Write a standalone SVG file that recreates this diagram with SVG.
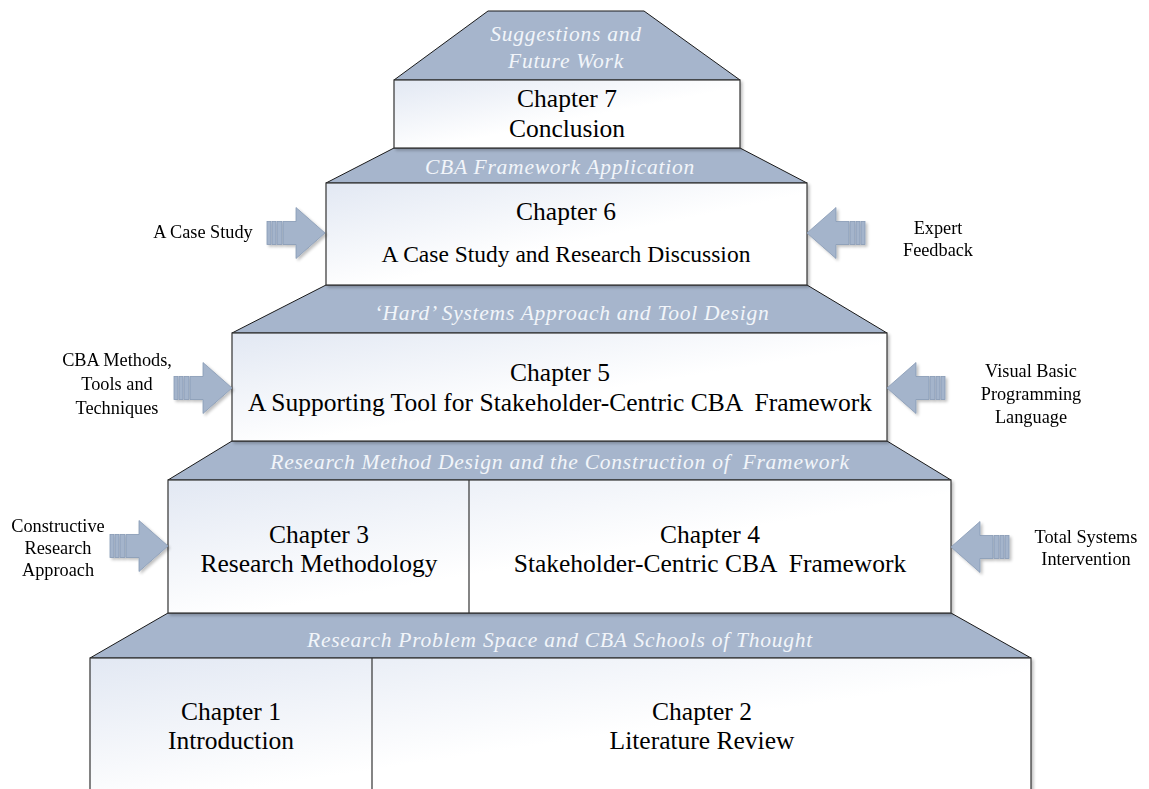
<svg xmlns="http://www.w3.org/2000/svg" xmlns:xlink="http://www.w3.org/1999/xlink" width="1149" height="789" viewBox="0 0 1149 789">
  <defs>
    <linearGradient id="boxFill" x1="0" y1="0" x2="1" y2="1">
      <stop offset="0" stop-color="#e2e8f3"/>
      <stop offset="0.55" stop-color="#ffffff"/>
      <stop offset="1" stop-color="#ffffff"/>
    </linearGradient>
    <filter id="soft" x="-10%" y="-10%" width="130%" height="130%">
      <feGaussianBlur in="SourceAlpha" stdDeviation="1.5"/>
      <feOffset dx="1.5" dy="2" result="b"/>
      <feComponentTransfer><feFuncA type="linear" slope="0.25"/></feComponentTransfer>
      <feMerge><feMergeNode/><feMergeNode in="SourceGraphic"/></feMerge>
    </filter>
    <!-- block arrow, tip at the origin, pointing right -->
    <g id="blockArrow">
      <rect x="-58" y="-11.5" width="4" height="23"/>
      <rect x="-53" y="-11.5" width="4" height="23"/>
      <rect x="-48" y="-11.5" width="5" height="23"/>
      <path d="M-42,-11.5 H-29 V-25.5 L0,0 L-29,25.5 V11.5 H-42 Z"/>
    </g>
  </defs>
  <style>
    .band { fill: #a6b5cc; stroke: #1a1a1a; stroke-width: 1; }
    .box { fill: url(#boxFill); stroke: #333333; stroke-width: 1.2; }
    .div { stroke: #333333; stroke-width: 1.2; }
    .arrow { fill: #a4b4cb; stroke: #8799b4; stroke-width: 0.8; }
    .ch { font-family: "Liberation Serif", "Times New Roman", serif; font-size: 25.5px; fill: #000000; text-anchor: middle; white-space: pre; }
    .sub { font-size: 23.5px; }
    .band-t { font-family: "Liberation Serif", "Times New Roman", serif; font-size: 21.5px; letter-spacing: 0.75px; font-style: italic; fill: #f2f5fa; text-anchor: middle; white-space: pre; }
    .side { font-family: "Liberation Serif", "Times New Roman", serif; font-size: 18.3px; fill: #000000; text-anchor: middle; }
  </style>

  <!-- shaded roof bands -->
  <g id="bands">
    <path class="band" d="M394,80 L488,11 L644,11 L740,80 Z"/>
    <path class="band" d="M394,148 L740,148 L807,183 L326,183 Z"/>
    <path class="band" d="M326,285 L807,285 L887,333 L232,333 Z"/>
    <path class="band" d="M232,441 L887,441 L951,480 L168,480 Z"/>
    <path class="band" d="M168,613 L951,613 L1031,658 L90,658 Z"/>
  </g>

  <g id="band-labels">
    <text class="band-t" x="566" y="41">Suggestions and</text>
    <text class="band-t" x="566" y="68">Future Work</text>
    <text class="band-t" x="560" y="174">CBA Framework Application</text>
    <text class="band-t" x="572" y="320">‘Hard’ Systems Approach and Tool Design</text>
    <text class="band-t" x="560" y="469">Research Method Design and the Construction of  Framework</text>
    <text class="band-t" x="560" y="647">Research Problem Space and CBA Schools of Thought</text>
  </g>

  <g id="chapter7">
    <rect class="box" x="394" y="80" width="346" height="68" filter="url(#soft)"/>
    <text class="ch" x="567" y="107">Chapter 7</text>
    <text class="ch" x="567" y="137">Conclusion</text>
  </g>

  <g id="chapter6">
    <rect class="box" x="326" y="183" width="481" height="102" filter="url(#soft)"/>
    <text class="ch" x="566" y="220">Chapter 6</text>
    <text class="ch sub" x="566" y="262">A Case Study and Research Discussion</text>
  </g>

  <g id="chapter5">
    <rect class="box" x="232" y="333" width="655" height="108" filter="url(#soft)"/>
    <text class="ch" x="560" y="381">Chapter 5</text>
    <text class="ch" x="560" y="411">A Supporting Tool for Stakeholder-Centric CBA  Framework</text>
  </g>

  <g id="chapter3-4">
    <rect class="box" x="168" y="480" width="783" height="133" filter="url(#soft)"/>
    <line class="div" x1="469" y1="480" x2="469" y2="613"/>
    <text class="ch" x="319" y="543">Chapter 3</text>
    <text class="ch" x="319" y="572">Research Methodology</text>
    <text class="ch" x="710" y="543">Chapter 4</text>
    <text class="ch" x="710" y="572">Stakeholder-Centric CBA  Framework</text>
  </g>

  <g id="chapter1-2">
    <rect class="box" x="90" y="658" width="941" height="140" filter="url(#soft)"/>
    <line class="div" x1="372" y1="658" x2="372" y2="798"/>
    <text class="ch" x="231" y="720">Chapter 1</text>
    <text class="ch" x="231" y="749">Introduction</text>
    <text class="ch" x="702" y="720">Chapter 2</text>
    <text class="ch" x="702" y="749">Literature Review</text>
  </g>

  <!-- input arrows feeding each level -->
  <g id="connectors" class="arrow" filter="url(#soft)">
    <use xlink:href="#blockArrow" transform="translate(325,233)"/>
    <use xlink:href="#blockArrow" transform="translate(807,233) scale(-1,1)"/>
    <use xlink:href="#blockArrow" transform="translate(232,388)"/>
    <use xlink:href="#blockArrow" transform="translate(887,388) scale(-1,1)"/>
    <use xlink:href="#blockArrow" transform="translate(168,546)"/>
    <use xlink:href="#blockArrow" transform="translate(951,547) scale(-1,1)"/>
  </g>

  <g id="inputs">
    <text class="side" x="203" y="238">A Case Study</text>
    <text class="side" x="938" y="234">Expert</text>
    <text class="side" x="938" y="256">Feedback</text>
    <text class="side" x="117" y="366">CBA Methods,</text>
    <text class="side" x="117" y="390">Tools and</text>
    <text class="side" x="117" y="414">Techniques</text>
    <text class="side" x="1031" y="377">Visual Basic</text>
    <text class="side" x="1031" y="400">Programming</text>
    <text class="side" x="1031" y="423">Language</text>
    <text class="side" x="58" y="532">Constructive</text>
    <text class="side" x="58" y="554">Research</text>
    <text class="side" x="58" y="576">Approach</text>
    <text class="side" x="1086" y="543">Total Systems</text>
    <text class="side" x="1086" y="565">Intervention</text>
  </g>
</svg>
